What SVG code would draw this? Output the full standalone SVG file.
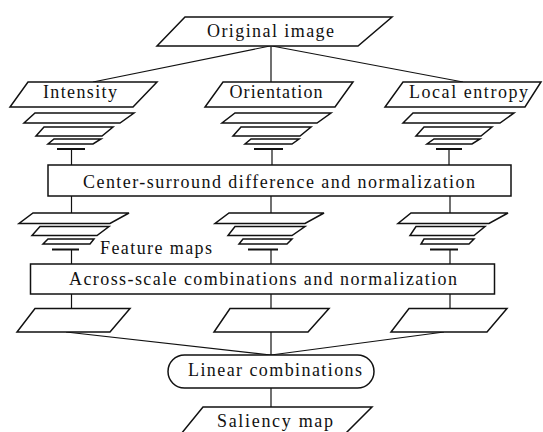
<svg xmlns="http://www.w3.org/2000/svg" width="543" height="432" viewBox="0 0 543 432">
<style>
.s{fill:#fff;stroke:#111;stroke-width:1.5;stroke-linejoin:miter}
.c{fill:none;stroke:#111;stroke-width:1.2}
.b{stroke:#111;stroke-width:2}
.t{font-family:'Liberation Serif','DejaVu Serif','Times New Roman',serif;font-size:18px;fill:#111;text-anchor:middle}
</style>
<rect width="543" height="432" fill="#fff"/>
<g id="connectors">
<line class="c" x1="270" y1="46" x2="93" y2="82"/>
<line class="c" x1="271" y1="46" x2="271" y2="82"/>
<line class="c" x1="272" y1="46" x2="463" y2="82"/>
<line class="c" x1="71.5" y1="149" x2="71.5" y2="165"/>
<line class="c" x1="272" y1="149" x2="272" y2="165"/>
<line class="c" x1="449" y1="149" x2="449" y2="165"/>
<line class="c" x1="71.5" y1="196" x2="71.5" y2="213"/>
<line class="c" x1="271" y1="196" x2="271" y2="213"/>
<line class="c" x1="450" y1="196" x2="450" y2="213"/>
<line class="c" x1="71.5" y1="249.5" x2="71.5" y2="264"/>
<line class="c" x1="271" y1="249.5" x2="271" y2="264"/>
<line class="c" x1="450" y1="249.5" x2="450" y2="264"/>
<line class="c" x1="71.5" y1="294" x2="71.5" y2="308.5"/>
<line class="c" x1="271" y1="294" x2="271" y2="308.5"/>
<line class="c" x1="450" y1="294" x2="450" y2="308.5"/>
<line class="c" x1="66" y1="332" x2="271" y2="355"/>
<line class="c" x1="271" y1="332" x2="271" y2="355"/>
<line class="c" x1="444" y1="332" x2="271" y2="355"/>
<line class="c" x1="271" y1="388" x2="271" y2="407"/>
</g>
<g id="original-image">
<polygon class="s" points="185,17 392,17 358,46 157,46"/>
<text class="t" x="270.5" y="37" textLength="127" lengthAdjust="spacing">Original image</text>
</g>
<g id="intensity">
<polygon class="s" points="28,82 157,82 133,107 10,107"/>
<text class="t" x="80" y="98" textLength="74" lengthAdjust="spacing">Intensity</text>
</g>
<g id="orientation">
<polygon class="s" points="223,82 353,82 335,107 205,107"/>
<text class="t" x="276" y="98" textLength="93" lengthAdjust="spacing">Orientation</text>
</g>
<g id="local-entropy">
<polygon class="s" points="403,82 541,82 525,107 385,107"/>
<text class="t" x="468.5" y="98" textLength="119" lengthAdjust="spacing">Local entropy</text>
</g>
<g id="pyramid-intensity">
<polygon class="s" points="35,113 134,113 120,123 24,123"/>
<polygon class="s" points="44,127 113,127 102,136 36,136"/>
<polygon class="s" points="54,139 101,139 93,144 48,144"/>
<line class="b" x1="57" y1="149" x2="85" y2="149"/>
</g>
<g id="pyramid-orientation">
<polygon class="s" points="235,113 331,113 317,123 222,123"/>
<polygon class="s" points="241,127 311,127 300,136 233,136"/>
<polygon class="s" points="251,139 299,139 292,144 245,144"/>
<line class="b" x1="254" y1="149" x2="283" y2="149"/>
</g>
<g id="pyramid-entropy">
<polygon class="s" points="413,113 514,113 500,123 403,123"/>
<polygon class="s" points="424,127 492,127 481,136 416,136"/>
<polygon class="s" points="434,139 480,139 472,144 427,144"/>
<line class="b" x1="436" y1="149" x2="462" y2="149"/>
</g>
<g id="center-surround">
<rect class="s" x="48" y="165" width="463" height="31"/>
<text class="t" x="279" y="188" textLength="392" lengthAdjust="spacing">Center-surround difference and normalization</text>
</g>
<g id="feature-maps-intensity">
<polygon class="s" points="33,213 129,213 110,223.5 19,223.5"/>
<polygon class="s" points="40,226.5 109,226.5 97,235.5 32,235.5"/>
<polygon class="s" points="48,239 94,239 90,244 43,244"/>
<line class="b" x1="52" y1="249.5" x2="79" y2="249.5"/>
</g>
<g id="feature-maps-orientation">
<polygon class="s" points="229,213 324,213 305,223.5 215,223.5"/>
<polygon class="s" points="235,226.5 305,226.5 292,235.5 228,235.5"/>
<polygon class="s" points="243,239 292,239 287,244 239,244"/>
<line class="b" x1="248" y1="249.5" x2="278" y2="249.5"/>
</g>
<g id="feature-maps-entropy">
<polygon class="s" points="411,213 508,213 489,223.5 398,223.5"/>
<polygon class="s" points="416,226.5 485,226.5 474,235.5 410,235.5"/>
<polygon class="s" points="424,239 474,239 469,244 421,244"/>
<line class="b" x1="430" y1="249.5" x2="458" y2="249.5"/>
</g>
<g id="feature-maps-label">
<text class="t" x="156" y="254" textLength="112" lengthAdjust="spacing">Feature maps</text>
</g>
<g id="across-scale">
<rect class="s" x="30.5" y="264" width="464" height="30"/>
<text class="t" x="263" y="285" textLength="388" lengthAdjust="spacing">Across-scale combinations and normalization</text>
</g>
<g id="map-intensity">
<polygon class="s" points="35,308.5 130,308.5 110,332 17,332"/>
</g>
<g id="map-orientation">
<polygon class="s" points="230,308.5 329,308.5 308,332 214,332"/>
</g>
<g id="map-entropy">
<polygon class="s" points="409,308.5 507,308.5 487,332 391,332"/>
</g>
<g id="linear-combinations">
<rect class="s" x="168" y="355" width="206" height="33" rx="16.5" ry="16.5"/>
<text class="t" x="275" y="376" textLength="174" lengthAdjust="spacing">Linear combinations</text>
</g>
<g id="saliency-map">
<polygon class="s" points="203,407 372,407 345,434 181,434"/>
<text class="t" x="275" y="427" textLength="116" lengthAdjust="spacing">Saliency map</text>
</g>
</svg>
